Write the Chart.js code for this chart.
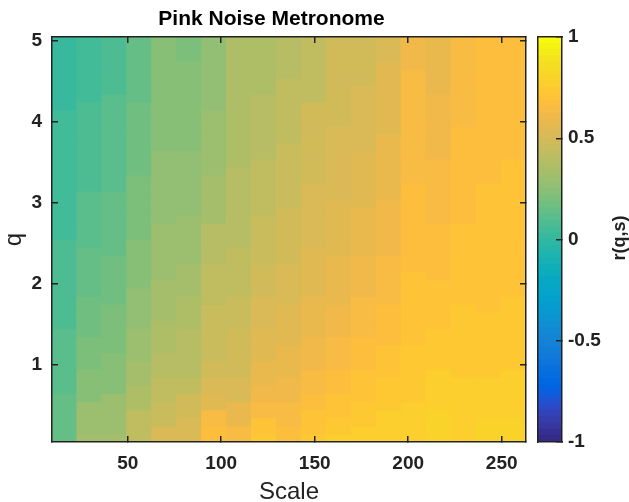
<!DOCTYPE html>
<html>
<head>
<meta charset="utf-8">
<style>
html,body{margin:0;padding:0;background:#fff;width:629px;height:502px;overflow:hidden}
canvas{position:absolute;top:0}
#main{left:0}
#bar{left:520px}
#cbLabel{position:absolute;left:589px;top:228px;width:60px;height:20px;line-height:20px;text-align:center;transform:rotate(-90deg);font:bold 18px "Liberation Sans",Arial,sans-serif;color:#222}
</style>
<script src="https://cdn.jsdelivr.net/npm/chart.js@4"></script>
</head>
<body>
<canvas id="main" width="543" height="502"></canvas>
<canvas id="bar" width="109" height="502"></canvas>
<div id="cbLabel">r(q,s)</div>
<script>
const titleText = 'Pink Noise Metronome';
const xTitle = 'Scale';
const yTitle = 'q';
const xTicks = [50,100,150,200,250];
const yTicks = [1,2,3,4,5];
const cbTicks = [-1,-0.5,0,0.5,1];
const scales = [16,30,43,56,70,83,96,110,123,136,150,163,176,190,203,216,230,243,256];
const qs = [5.0,4.9,4.8,4.7,4.6,4.5,4.4,4.3,4.2,4.1,4.0,3.9,3.8,3.7,3.6,3.5,3.4,3.3,3.2,3.1,3.0,2.9,2.8,2.7,2.6,2.5,2.4,2.3,2.2,2.1,2.0,1.9,1.8,1.7,1.6,1.5,1.4,1.3,1.2,1.1,1.0,0.9,0.8,0.7,0.6,0.5,0.4,0.3,0.2,0.1];

// r(q,s) read per scale column, listed from q=5.0 down to q=0.1
const col00 = [.016,.016,.016,.016,.016,.016,.016,.016,.016, .047,.047,.047,.047,.047,.047,.047,.047,.047,.047,.047,.047,.047,.047,.047,.047, .078,.078,.078,.078,.078,.078,.078,.078,.078,.078,.078, .109,.109,.109,.109,.109,.109,.109,.109, .141,.141,.141,.141,.141,.141];
const col01 = [.047,.047,.047,.047,.047,.047,.047,.047, .078,.078,.078,.078,.078,.078,.078,.078,.078,.078,.078, .109,.109,.109,.109,.109,.109,.109, .141,.141,.141,.141,.141,.141, .172,.172,.172,.172,.172, .203,.203,.203,.203, .234,.234,.234,.234, .297,.297,.297,.297, .328];
const col02 = [.078,.078,.078,.078,.078,.078,.078, .109,.109,.109,.109,.109,.109,.109,.109,.109,.109,.109,.109, .141,.141,.141,.141,.141,.141,.141,.141, .172,.172,.172,.172,.172,.172, .203,.203,.203,.203,.203,.203, .234,.234,.234,.234,.234, .297,.297,.297,.297,.297, .328];
const col03 = [.141,.141,.141,.141,.141,.141,.141,.141, .172,.172,.172,.172,.172,.172,.172,.172,.172, .203,.203,.203,.203,.203,.203,.203,.203, .234,.234,.234,.234,.234,.234, .266,.266,.266,.266,.266, .297,.297,.297,.297, .328,.328,.328, .359,.359,.359, .422,.422,.422,.422];
const col04 = [.234,.234,.234,.234,.234,.234,.234,.234,.234,.234,.234,.234,.234,.234, .266,.266,.266,.266,.266,.266,.266,.266,.266, .297,.297,.297,.297,.297,.297,.297, .328,.328,.328,.328,.328, .359,.359,.359,.359, .391,.391,.391, .422,.422,.422, .453,.453,.453, .516,.516];
const col05 = [.203,.203,.203, .234,.234,.234,.234,.234,.234,.234,.234,.234,.234,.234, .266,.266,.266,.266,.266,.266,.266,.266, .297,.297,.297,.297,.297,.297, .328,.328,.328,.328, .359,.359,.359,.359, .391,.391,.391,.391,.391,.391, .422,.422, .484,.484,.484, .516,.516,.516];
const col06 = [.266,.266,.266,.266,.266,.266,.266,.266,.266, .297,.297,.297,.297,.297,.297,.297,.297, .328,.328,.328,.328,.328,.328, .391,.391,.391,.391,.391, .422,.422,.422,.422,.422, .453,.453,.453,.453,.453,.453,.453, .484,.484, .516,.516, .547,.547, .641,.641, .672,.672];
const col07 = [.359,.359,.359,.359,.359,.359,.359,.359,.359,.359,.359,.359,.359,.359,.359,.359, .391,.391,.391,.391,.391,.391,.391,.391,.391,.391, .422,.422,.422,.422,.422,.422, .453,.453,.453,.453, .484,.484,.484,.484,.484,.484, .516,.516,.516, .578,.578,.578, .641,.641];
const col08 = [.359,.359,.359,.359,.359,.359,.359, .391,.391,.391,.391,.391,.391,.391,.391, .422,.422,.422,.422,.422,.422,.422, .453,.453,.453,.453,.453,.453, .484,.484,.484,.484, .516,.516,.516,.516, .547,.547,.547,.547, .578,.578,.578, .609,.609, .641,.641, .703,.703, .734];
const col09 = [.391,.391,.391,.391,.391, .422,.422,.422,.422,.422,.422,.422,.422, .453,.453,.453,.453,.453,.453,.453,.453, .484,.484,.484,.484,.484,.484,.484, .516,.516,.516,.516,.516, .547,.547,.547,.547,.547, .578,.578,.578,.578, .609,.609,.609, .641,.641,.641, .672,.672];
const col10 = [.422,.422,.422,.422,.422,.422,.422,.422, .484,.484,.484,.484,.484,.484,.484,.484,.484,.484, .516,.516,.516,.516,.516,.516,.516,.516, .547,.547,.547,.547,.547,.547, .578,.578,.578,.578,.578, .609,.609,.609,.609, .641,.641,.641, .672,.672, .703,.703,.703, .734];
const col11 = [.484,.484,.484,.484,.484,.484,.484,.484,.484,.484,.484, .516,.516,.516,.516,.516,.516,.516,.516,.516, .547,.547,.547,.547,.547,.547,.547, .578,.578,.578,.578,.578,.578, .609,.609,.609,.609, .641,.641,.641,.641, .672,.672,.672, .703,.703,.703, .734,.734, .766];
const col12 = [.484,.484,.484,.484,.484,.484, .516,.516,.516,.516,.516,.516,.516,.516, .547,.547,.547,.547,.547,.547,.547, .578,.578,.578,.578,.578,.578, .609,.609,.609,.609,.609, .641,.641,.641,.641,.641, .672,.672,.672,.672, .703,.703,.703,.703, .734,.734,.734, .766,.766];
const col13 = [.516,.516,.516, .547,.547,.547,.547,.547,.547,.547,.547,.547, .578,.578,.578,.578,.578,.578,.578,.578, .609,.609,.609,.609,.609,.609,.609, .641,.641,.641,.641,.641,.641, .672,.672,.672,.672,.672, .703,.703,.703,.703, .734,.734,.734,.734, .766,.766,.766,.766];
const col14 = [.609,.609,.609,.609, .641,.641,.641,.641,.641,.641,.641,.641,.641,.641,.641,.641,.641,.641, .672,.672,.672,.672,.672,.672,.672,.672,.672,.672,.672, .703,.703,.703,.703,.703,.703,.703,.703,.703, .734,.734,.734,.734,.734,.734,.734, .766,.766,.766,.766,.766];
const col15 = [.578,.578,.578,.578,.578,.578,.578, .609,.609,.609,.609,.609,.609,.609,.609, .641,.641,.641,.641,.641,.641,.641,.641, .672,.672,.672,.672,.672,.672,.672, .703,.703,.703,.703,.703,.703, .734,.734,.734,.734,.734, .766,.766,.766,.766,.766, .797,.797,.797,.797];
const col16 = [.641,.641,.641,.641,.641,.641,.641,.641,.641,.641,.641, .672,.672,.672,.672,.672,.672,.672,.672,.672,.672,.672,.672, .703,.703,.703,.703,.703,.703,.703,.703,.703,.703, .734,.734,.734,.734,.734,.734,.734,.734,.734, .766,.766,.766,.766,.766,.766,.766,.766];
const col17 = [.672,.672,.672,.672,.672,.672,.672,.672,.672,.672,.672,.672,.672,.672,.672,.672,.672,.672, .703,.703,.703,.703,.703,.703,.703,.703,.703,.703,.703,.703,.703,.703,.703,.703, .734,.734,.734,.734,.734,.734,.734,.734, .766,.766,.766,.766,.766, .797,.797,.797];
const col18 = [.672,.672,.672,.672,.672,.672,.672,.672,.672,.672,.672,.672,.672,.672,.672, .703,.703,.703,.703,.703,.703,.703,.703,.703,.703,.703,.703,.703,.703,.703,.703,.703, .734,.734,.734,.734,.734,.734,.734,.734,.734, .766,.766,.766,.766,.766,.766, .797,.797,.797];
const columns = [col00,col01,col02,col03,col04,col05,col06,col07,col08,col09,col10,col11,col12,col13,col14,col15,col16,col17,col18];

const parula = [[.2081,.1663,.5292],[.2116,.1898,.5777],[.2123,.2138,.627],[.2081,.2386,.6771],[.1959,.2645,.7279],[.1707,.2919,.7792],[.1253,.3242,.8303],[.0591,.3598,.8683],[.0117,.3875,.882],[.006,.4086,.8828],[.0165,.4266,.8786],[.0329,.443,.872],[.0498,.4586,.8641],[.0629,.4737,.8554],[.0723,.4887,.8467],[.0779,.504,.8384],[.0793,.52,.8312],[.0749,.5375,.8263],[.0641,.557,.824],[.0488,.5772,.8228],[.0343,.5966,.8199],[.0265,.6137,.8135],[.0239,.6287,.8038],[.0231,.6418,.7913],[.0228,.6535,.7768],[.0267,.6642,.7607],[.0384,.6743,.7436],[.059,.6838,.7254],[.0843,.6928,.7062],[.1133,.7015,.6859],[.1453,.7098,.6646],[.1801,.7177,.6424],[.2178,.725,.6193],[.2586,.7317,.5954],[.3022,.7376,.5712],[.3482,.7424,.5473],[.3953,.7459,.5244],[.442,.7481,.5033],[.4871,.7491,.484],[.53,.7491,.4661],[.5709,.7485,.4494],[.6099,.7473,.4337],[.6473,.7456,.4188],[.6834,.7435,.4044],[.7184,.7411,.3905],[.7525,.7384,.3768],[.7858,.7356,.3633],[.8185,.7327,.3498],[.8507,.7299,.336],[.8824,.7274,.3217],[.9139,.7258,.3063],[.945,.7261,.2886],[.9739,.7314,.2666],[.9938,.7455,.2403],[.999,.7653,.2164],[.9955,.7861,.1967],[.988,.8066,.1794],[.9789,.8271,.1633],[.9697,.8481,.1475],[.9626,.8705,.1309],[.9589,.8949,.1132],[.9598,.9218,.0948],[.9661,.9514,.0755],[.9763,.9831,.0538]];

const css = c => `rgb(${Math.round(c[0]*255)},${Math.round(c[1]*255)},${Math.round(c[2]*255)})`;
const colorOf = v => css(parula[Math.max(0,Math.min(63,Math.floor((v+1)/2*64)))]);

const FONT = '"Liberation Sans",Arial,sans-serif';
const INK = '#222';
const TICK = -6;
const setTicks = list => scale => { scale.ticks = list.map(v => ({value:v})); };
const boxAxis = (extra) => Object.assign({
  offset:false,
  grid:{display:true,offset:false,drawOnChartArea:false,drawTicks:true,tickLength:TICK,color:INK,lineWidth:1.5,z:1},
  border:{display:true,color:INK,width:1.5,z:1},
}, extra);

new Chart(document.getElementById('main'), {
  type:'bar',
  data:{
    labels:scales,
    datasets:qs.map((q,r)=>({
      label:'q='+q,
      data:columns.map(()=>[q-0.05,q+0.05]),
      backgroundColor:columns.map(col=>colorOf(col[r])),
      grouped:false,
      categoryPercentage:1,
      barPercentage:1,
      borderWidth:0,
      borderSkipped:false,
      inflateAmount:0.6,
      xAxisID:'x',
      yAxisID:'y'
    }))
  },
  options:{
    responsive:false,
    animation:false,
    devicePixelRatio:1,
    layout:{padding:0},
    plugins:{
      legend:{display:false},
      tooltip:{enabled:false},
      title:{display:true,text:titleText,color:'#000',font:{family:FONT,size:21,weight:'bold'},padding:{top:7,bottom:4.8}}
    },
    scales:{
      x:{display:false,type:'category',offset:true},
      y:boxAxis({type:'linear',position:'left',min:0.05,max:5.05,afterBuildTicks:setTicks(yTicks),afterFit(s){s.width=52;},
        ticks:{color:INK,font:{family:FONT,size:19,weight:'bold'},padding:16,autoSkip:false},
        title:{display:true,text:yTitle,color:INK,font:{family:FONT,size:24},padding:{top:0,bottom:6}}}),
      yr:boxAxis({type:'linear',position:'right',min:0.05,max:5.05,afterBuildTicks:setTicks(yTicks),afterFit(s){s.width=17;},
        ticks:{display:false}}),
      xb:boxAxis({type:'linear',position:'bottom',min:9.5,max:263,afterBuildTicks:setTicks(xTicks),afterFit(s){s.height=60;},
        ticks:{color:INK,font:{family:FONT,size:19,weight:'bold'},padding:16,autoSkip:false,maxRotation:0},
        title:{display:true,text:xTitle,color:INK,font:{family:FONT,size:24},padding:{top:0,bottom:-5}}}),
      xt:boxAxis({type:'linear',position:'top',min:9.5,max:263,afterBuildTicks:setTicks(xTicks),afterFit(s){s.height=0;},
        ticks:{display:false}})
    }
  }
});

const cbStep = 2/64;
new Chart(document.getElementById('bar'), {
  type:'bar',
  data:{
    labels:['r'],
    datasets:parula.map((c,i)=>({
      data:[[-1+i*cbStep,-1+(i+1)*cbStep]],
      backgroundColor:css(c),
      grouped:false,categoryPercentage:1,barPercentage:1,borderWidth:0,borderSkipped:false,inflateAmount:0.6,
      xAxisID:'x',yAxisID:'yb'
    }))
  },
  options:{
    responsive:false,
    animation:false,
    devicePixelRatio:1,
    layout:{padding:{left:18,top:37,right:0,bottom:60}},
    plugins:{legend:{display:false},tooltip:{enabled:false},title:{display:false}},
    scales:{
      x:{display:false,type:'category',offset:true},
      yb:{display:false,type:'linear',min:-1,max:1},
      y:boxAxis({type:'linear',position:'right',min:-1,max:1,afterBuildTicks:setTicks(cbTicks),afterFit(s){s.width=67;},
        ticks:{color:INK,font:{family:FONT,size:19,weight:'bold'},padding:12,autoSkip:false,callback:v=>String(v)}}),
      yl:boxAxis({type:'linear',position:'left',min:-1,max:1,afterBuildTicks:s=>{s.ticks=[];},afterFit(s){s.width=0;},ticks:{display:false},grid:{display:false}}),
      xb:boxAxis({type:'linear',position:'bottom',min:0,max:1,afterBuildTicks:s=>{s.ticks=[];},afterFit(s){s.height=0;},ticks:{display:false},grid:{display:false}}),
      xt:boxAxis({type:'linear',position:'top',min:0,max:1,afterBuildTicks:s=>{s.ticks=[];},afterFit(s){s.height=0;},ticks:{display:false},grid:{display:false}})
    }
  }
});
</script>
</body>
</html>
